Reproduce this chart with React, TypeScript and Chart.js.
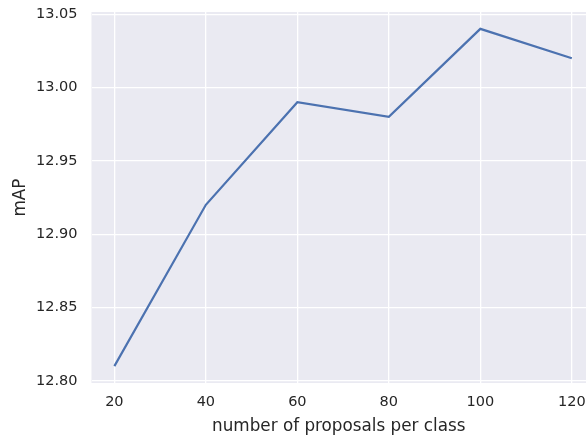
import React, { useEffect, useRef } from "react";
import { Chart, registerables } from "chart.js";

Chart.register(...registerables);

const proposals = [20, 40, 60, 80, 100, 120];
const mapValues = [12.81, 12.92, 12.99, 12.98, 13.04, 13.02];
const xTicks = [20, 40, 60, 80, 100, 120];
const yTicks = [12.8, 12.85, 12.9, 12.95, 13.0, 13.05];

const TEXT = "#262626";
const FONT = "'DejaVu Sans', sans-serif";

const bgPlugin = {
  id: "plotBg",
  beforeDraw(chart: any) {
    const { ctx, chartArea } = chart;
    ctx.save();
    ctx.fillStyle = "#EAEAF2";
    ctx.fillRect(chartArea.left, chartArea.top, chartArea.right - chartArea.left, chartArea.bottom - chartArea.top);
    ctx.restore();
  },
};

export default function App() {
  const ref = useRef<HTMLCanvasElement | null>(null);
  useEffect(() => {
    document.body.style.margin = "0";
    const canvas = ref.current!;
    const chart = new Chart(canvas, {
      type: "line",
      data: {
        datasets: [
          {
            data: proposals.map((p, i) => ({ x: p, y: mapValues[i] })),
            borderColor: "#4C72B0",
            borderWidth: 2.2,
            pointRadius: 0,
            fill: false,
            tension: 0,
          },
        ],
      },
      options: {
        animation: false,
        responsive: false,
        maintainAspectRatio: false,
        layout: { padding: { top: 12, right: 0, left: 0, bottom: 0 } },
        plugins: { legend: { display: false }, tooltip: { enabled: false } },
        scales: {
          x: {
            type: "linear",
            min: 15,
            max: 123.1,
            afterBuildTicks: (s: any) => {
              s.ticks = xTicks.map((v) => ({ value: v }));
            },
            afterFit: (s: any) => {
              s.height = 56;
              s.paddingLeft = 0;
              s.paddingRight = 0;
            },
            border: { display: false },
            grid: { color: "#FFFFFF", lineWidth: 1.3, drawTicks: false },
            ticks: {
              color: TEXT,
              font: { family: FONT, size: 14.5 },
              padding: 11,
              maxRotation: 0,
              callback: (v: any) => String(v),
            },
            title: {
              display: true,
              text: "number of proposals per class",
              color: TEXT,
              font: { family: FONT, size: 16.8 },
              padding: { top: 2, bottom: 2 },
            },
          },
          y: {
            min: 12.7985,
            max: 13.0515,
            afterBuildTicks: (s: any) => {
              s.ticks = yTicks.map((v) => ({ value: v }));
            },
            afterFit: (s: any) => {
              s.width = 91.5;
              s.paddingTop = 0;
              s.paddingBottom = 0;
            },
            border: { display: false },
            grid: { color: "#FFFFFF", lineWidth: 1.3, drawTicks: false },
            ticks: {
              color: TEXT,
              font: { family: FONT, size: 14.5 },
              padding: 14,
              callback: (v: any) => Number(v).toFixed(2),
            },
            title: {
              display: true,
              text: "mAP",
              color: TEXT,
              font: { family: FONT, size: 16.8 },
              padding: { top: 11, bottom: 0 },
            },
          },
        },
      },
      plugins: [bgPlugin],
    });
    return () => chart.destroy();
  }, []);
  return <canvas ref={ref} width={586} height={439} style={{ display: "block" }} />;
}
